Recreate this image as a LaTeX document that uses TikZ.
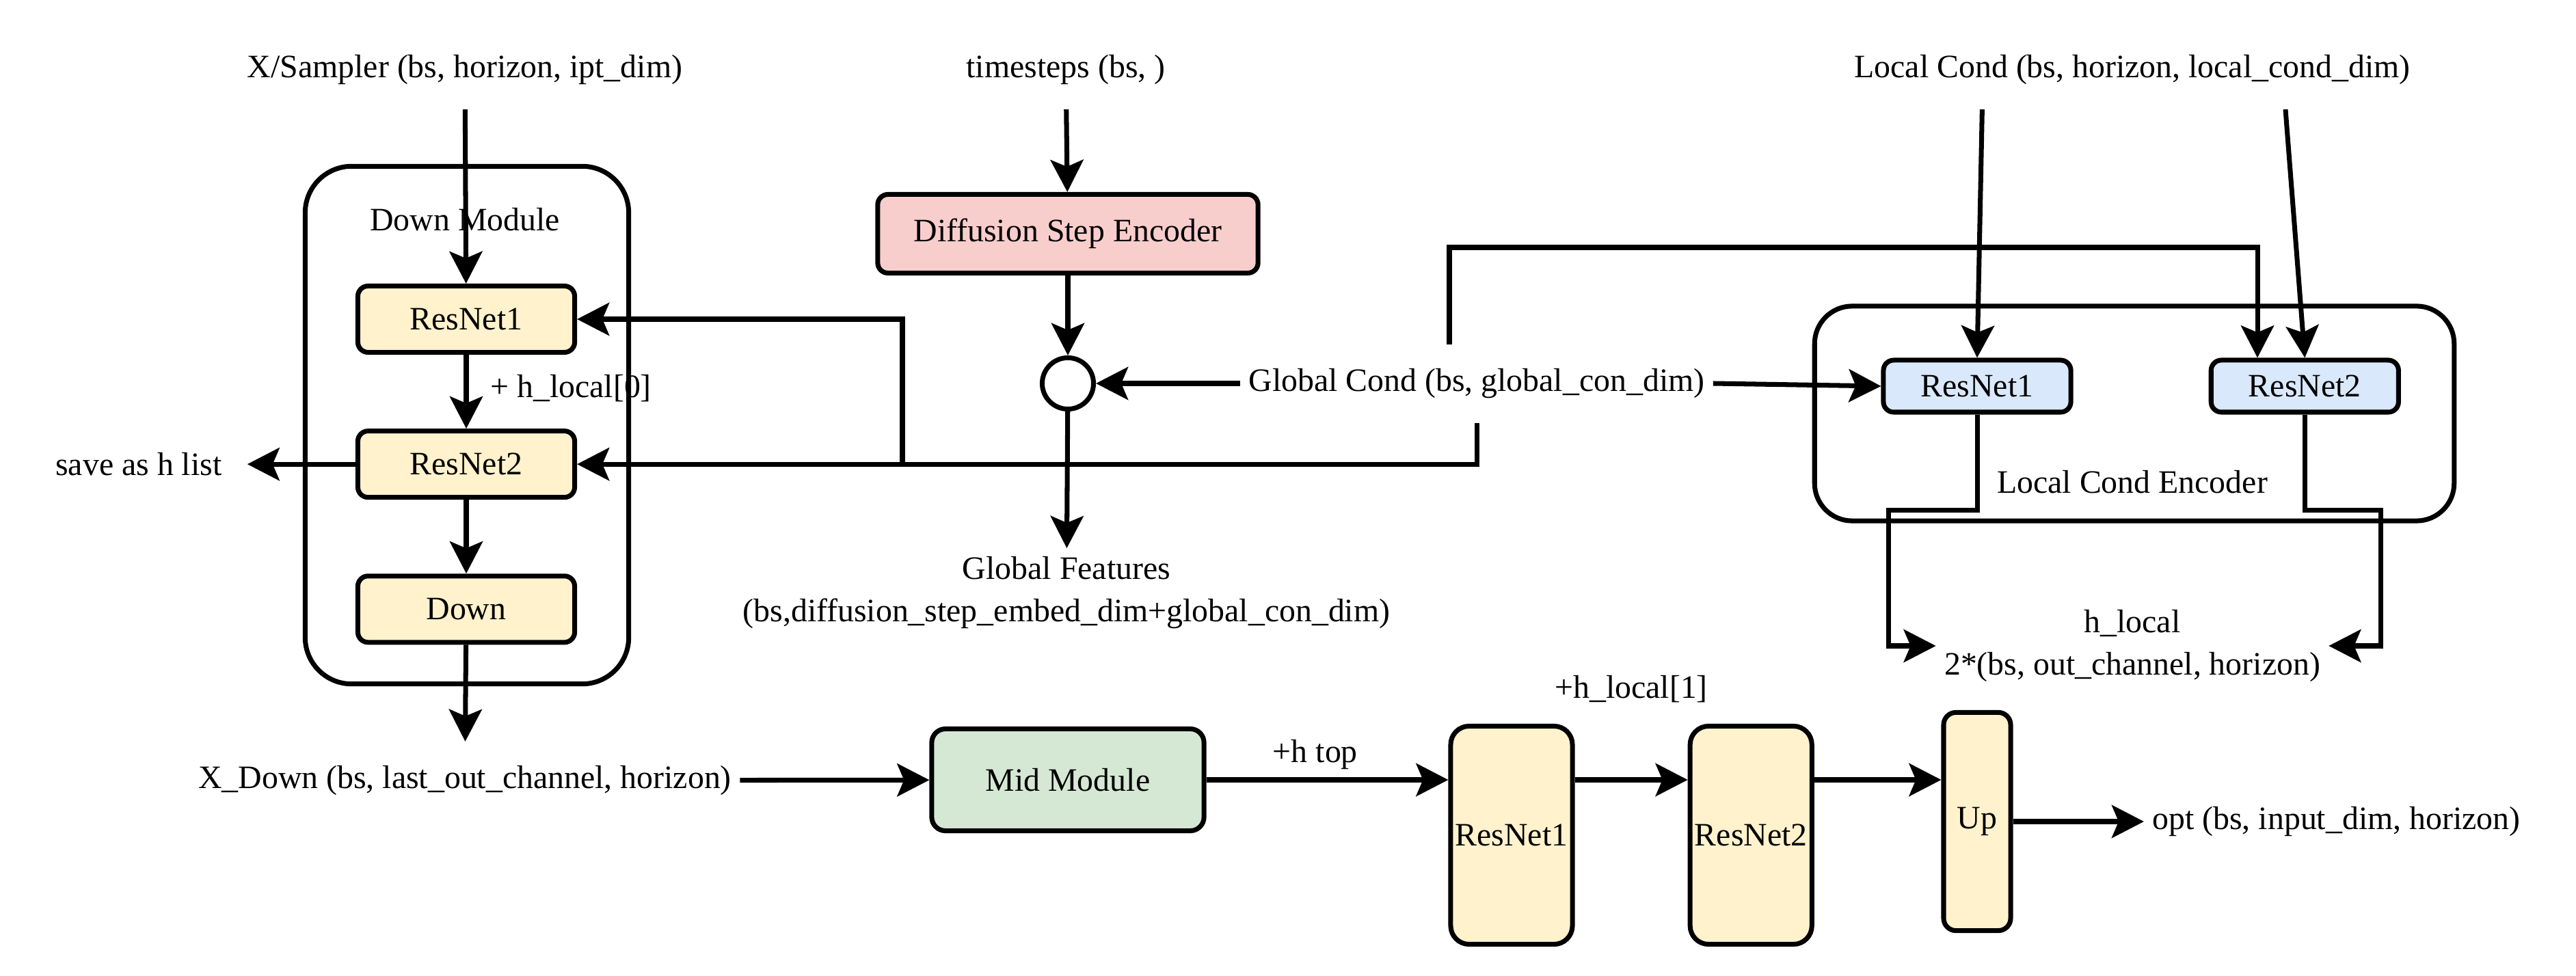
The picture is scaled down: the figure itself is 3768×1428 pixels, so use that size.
\documentclass[tikz,border=0pt]{standalone}
\usepackage{fontspec}
\setmainfont{Liberation Serif}
\usepackage{tikz}
\usetikzlibrary{arrows.meta,positioning,calc}

\definecolor{yellowfill}{HTML}{FFF2CC}
\definecolor{greenfill}{HTML}{D5E8D4}
\definecolor{pinkfill}{HTML}{F8CECC}
\definecolor{bluefill}{HTML}{DAE8FC}

\begin{document}
\begin{tikzpicture}[
    x=0.01cm, y=-0.01cm,
    font=\fontsize{13.6}{17.5}\selectfont,
    block/.style={rectangle, rounded corners=0.15cm, draw=black, line width=2pt,
                  inner sep=0.05cm, align=center},
    resblock/.style={block, fill=yellowfill},
    midblock/.style={block, fill=greenfill, rounded corners=0.2cm},
    encblock/.style={block, fill=pinkfill},
    condblock/.style={block, fill=bluefill},
    group/.style={rectangle, draw=black, line width=2pt},
    arrow/.style={-{Stealth[length=0.47cm, width=0.48cm, inset=0.1cm]}, line width=2pt},
    line/.style={line width=2pt}
]
\useasboundingbox (0,0) rectangle (3768,1428);

% Down module
\node[group, rounded corners=0.68cm, minimum width=4.73cm, minimum height=7.57cm] (downmod) at (683,622) {};
\node (downlbl) at (680,321) {Down Module};
\node[resblock, minimum width=3.17cm, minimum height=0.97cm] (dres1) at (682,467) {ResNet1};
\node[resblock, minimum width=3.17cm, minimum height=0.97cm, below=1.08cm of dres1] (dres2) {ResNet2};
\node[resblock, minimum width=3.17cm, minimum height=0.97cm, below=1.08cm of dres2] (ddown) {Down};
\node[anchor=west] (hl0) at (705,568) {+ h\_local[0]};
\node[left=1.83cm of dres2] (hsave) {save as h list};

% Inputs
\node (xin) at (680,102) {X/Sampler (bs, horizon, ipt\_dim)};
\node (tsteps) at (1559,102) {timesteps (bs, )};
\node (lcond) at (3119,102) {Local Cond (bs, horizon, local\_cond\_dim)};

% Global branch
\node[encblock, minimum width=5.56cm, minimum height=1.15cm] (enc) at (1562,342) {Diffusion Step Encoder};
\node[circle, draw=black, fill=white, line width=2pt, minimum size=0.75cm, inner sep=0pt] (mix) at (1562,561) {};
\node (gcond) at (2160,561) {Global Cond (bs, global\_con\_dim)};
\node[align=center] (gfeat) at (1560,867) {Global Features\\(bs,diffusion\_step\_embed\_dim+global\_con\_dim)};

% Local cond encoder
\node[group, rounded corners=0.55cm, minimum width=9.35cm, minimum height=3.14cm] (lenc) at (3122,605) {};
\node[condblock, minimum width=2.74cm, minimum height=0.76cm] (lres1) at (2892,565) {ResNet1};
\node[condblock, minimum width=2.74cm, minimum height=0.76cm, right=1.98cm of lres1] (lres2) {ResNet2};
\node (lenclbl) at (3119,705) {Local Cond Encoder};
\node[align=center] (hloc) at (3119,945) {h\_local\\2*(bs, out\_channel, horizon)};

% Mid and up path
\node (xdown) at (680,1142) {X\_Down (bs, last\_out\_channel, horizon)};
\node[midblock, minimum width=3.98cm, minimum height=1.49cm] (mid) at (1562,1141) {Mid Module};
\node[resblock, rounded corners=0.27cm, minimum width=1.78cm, minimum height=3.19cm] (ures1) at (2211,1222) {ResNet1};
\node[resblock, rounded corners=0.27cm, minimum width=1.78cm, minimum height=3.19cm, right=1.65cm of ures1] (ures2) {ResNet2};
\node[resblock, rounded corners=0.18cm, minimum width=0.98cm, minimum height=3.19cm] (up) at (2892,1202) {Up};
\node[anchor=west] (opt) at (3136,1202) {opt (bs, input\_dim, horizon)};

% Arrows
\draw[arrow, shorten <=0.24cm] (xin) -- (dres1);
\draw[arrow] (dres1) -- (dres2);
\draw[arrow] (dres2) -- (ddown);
\draw[arrow, shorten >=0.23cm] (ddown) -- (xdown);
\draw[arrow, shorten >=0.25cm] (dres2) -- (hsave);

\draw[arrow, shorten <=0.24cm] (tsteps) -- (enc);
\draw[arrow] (enc) -- (mix);
\draw[arrow] (gcond) -- (mix);
\draw[arrow] (mix) -- (gfeat);

\coordinate (gsplit) at (1320,681);
\draw[arrow, shorten <=0.24cm] (gcond.south) |- (dres2.east);
\draw[arrow] (gsplit) |- (dres1.east);

\coordinate (gtop) at (3302,362);
\draw[arrow, shorten <=0.23cm] ([xshift=-0.4cm]gcond.north) |- (gtop) -- (gtop |- lres2.north);
\draw[arrow] (gcond.east) -- (lres1.west);

\draw[arrow, shorten <=0.24cm] ([xshift=-2.19cm]lcond.south) -- (lres1.north);
\draw[arrow, shorten <=0.24cm] ([xshift=2.22cm]lcond.south) -- (lres2.north);
\draw[arrow] (lres1.south) -- ++(0,140) -- ++(-130,0) |- (hloc.west);
\draw[arrow] (lres2.south) -- ++(0,140) -- ++(111,0) |- (hloc.east);

\draw[arrow] (xdown) -- (mid);
\draw[arrow] (mid.east) -- node[above, pos=0.45] (htop) {+h top} (mid.east -| ures1.west);
\draw[arrow] (mid.east -| ures1.east) -- node[above=0.98cm] (hl1) {+h\_local[1]} (mid.east -| ures2.west);
\draw[arrow] (mid.east -| ures2.east) -- (mid.east -| up.west);
\draw[arrow] (up) -- (opt);

\end{tikzpicture}
\end{document}
